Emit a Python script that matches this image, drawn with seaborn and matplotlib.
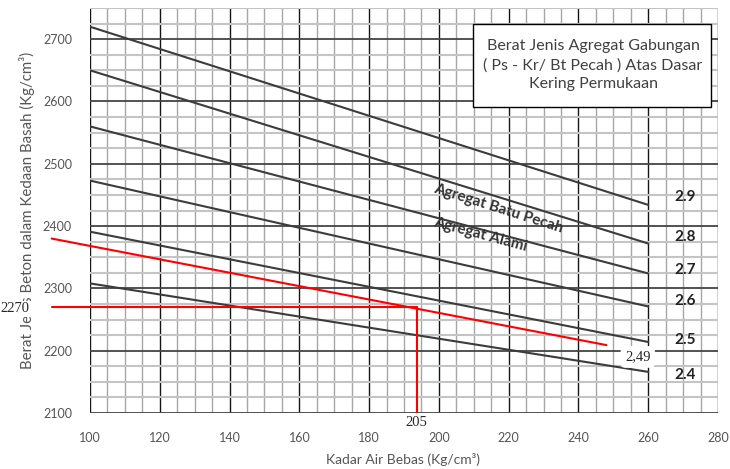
import matplotlib
matplotlib.use('Agg')
import pandas as pd
import matplotlib.pyplot as plt
import seaborn as sns
from matplotlib.ticker import MultipleLocator
from matplotlib.patches import Rectangle

# kadar air bebas (x) at the two ends of every curve
water = [100, 260]
# berat jenis agregat gabungan
sg_labels = ['2.9', '2.8', '2.7', '2.6', '2.5', '2.4']
density_start = [2720, 2650, 2560, 2473, 2391, 2308]
density_end = [2434, 2372, 2324, 2271, 2214, 2166]
sg_label_y = [2447, 2383, 2330, 2279, 2217, 2161]

# red reading lines
red_slope_x = [89, 248]
red_slope_y = [2380, 2209]
read_water = 193.6
read_density = 2270
read_x_label = '205'
read_y_label = '2270'
read_sg_label = '2,49'

rows = []
for sg, y0, y1 in zip(sg_labels, density_start, density_end):
    rows.append({'water': water[0], 'density': y0, 'sg': sg})
    rows.append({'water': water[1], 'density': y1, 'sg': sg})
df = pd.DataFrame(rows)

sns.set_style('white')
plt.rcParams['font.family'] = ['Lato', 'DejaVu Sans']

fig = plt.figure(figsize=(7.3, 4.69), dpi=100)
ax = fig.add_axes([0.1233, 0.1194, 0.8603, 0.8635])

ax.set_xlim(100, 280)
ax.set_ylim(2100, 2750)
ax.xaxis.set_major_locator(MultipleLocator(20))
ax.xaxis.set_minor_locator(MultipleLocator(5))
ax.yaxis.set_major_locator(MultipleLocator(100))
ax.yaxis.set_minor_locator(MultipleLocator(25))
ax.set_yticks(range(2100, 2701, 100))

# grid paper
ax.grid(axis='x', which='minor', color='#a6a6a6', lw=1.0)
ax.grid(axis='y', which='minor', color='#c4c4c4', lw=1.5)
ax.grid(axis='x', which='major', color='#151515', lw=1.0)
ax.grid(axis='y', which='major', color='#444444', lw=1.3)
ax.set_axisbelow(True)
for s in ax.spines.values():
    s.set_visible(False)
ax.get_xgridlines()[0].set_color('#a6a6a6')

sns.lineplot(data=df, x='water', y='density', hue='sg', palette=['#3c3c3c'] * 6,
             legend=False, lw=1.5, ax=ax, zorder=3)

# red reading lines
sns.lineplot(x=red_slope_x, y=red_slope_y, color='red', lw=1.5, ax=ax, clip_on=False, zorder=4)
sns.lineplot(x=[red_slope_x[0], read_water], y=[read_density, read_density], color='red', lw=1.5,
             ax=ax, clip_on=False, zorder=4)
ax.plot([read_water, read_water], [read_density, 2094], color='red', lw=1.5, clip_on=False, zorder=4)

ax.tick_params(which='both', length=0, labelsize=9, colors='#555555')
ax.tick_params(axis='x', pad=14)
ax.tick_params(axis='y', pad=13)

ax.set_xlabel('Kadar Air Bebas (Kg/cm³)', fontsize=10, color='#555555')
ax.set_ylabel('Berat Jenis Beton dalam Kedaan Basah (Kg/cm³)', fontsize=10.8, color='#555555')
ax.xaxis.set_label_coords(0.498, -0.098)
ax.yaxis.set_label_coords(-0.0876, 0.5)

# curve labels on the right
for sg, y in zip(sg_labels, sg_label_y):
    ax.text(270.5, y, sg, fontsize=11, fontweight='bold', color='#222222', ha='center', va='center')

ax.text(217, 2428, 'Agregat Batu Pecah', rotation=-17.5, fontsize=11, fontweight='bold',
        color='#333333', ha='center', va='center', rotation_mode='anchor')
ax.text(212, 2386, 'Agregat Alami', rotation=-15, fontsize=11, fontweight='bold',
        color='#333333', ha='center', va='center', rotation_mode='anchor')

# title box
ax.add_patch(Rectangle((0.610, 0.7556), 0.379, 0.2044, transform=ax.transAxes,
                       facecolor='white', edgecolor='black', lw=1.0, zorder=5))
ax.text(0.801, 0.859, 'Berat Jenis Agregat Gabungan\n( Ps - Kr/ Bt Pecah ) Atas Dasar\nKering Permukaan',
        transform=ax.transAxes, ha='center', va='center', fontsize=11.5, color='#404040',
        linespacing=1.4, zorder=6)

# reading values
ax.text(78.5, 2267, read_y_label, family='Liberation Serif', fontsize=10.5, ha='center', va='center',
        bbox=dict(facecolor='white', edgecolor='none', boxstyle='square,pad=0.1'), clip_on=False, zorder=6)
ax.text(read_water, 2084, read_x_label, family='Liberation Serif', fontsize=10.5, ha='center', va='center',
        bbox=dict(facecolor='white', edgecolor='none', boxstyle='square,pad=0.25'), clip_on=False, zorder=6)
ax.text(257, 2190, read_sg_label, family='Liberation Serif', fontsize=10.5, ha='center', va='center',
        bbox=dict(facecolor='white', edgecolor='none', boxstyle='round,pad=0.3'), clip_on=False, zorder=6)

plt.savefig('out.png', dpi=100)
